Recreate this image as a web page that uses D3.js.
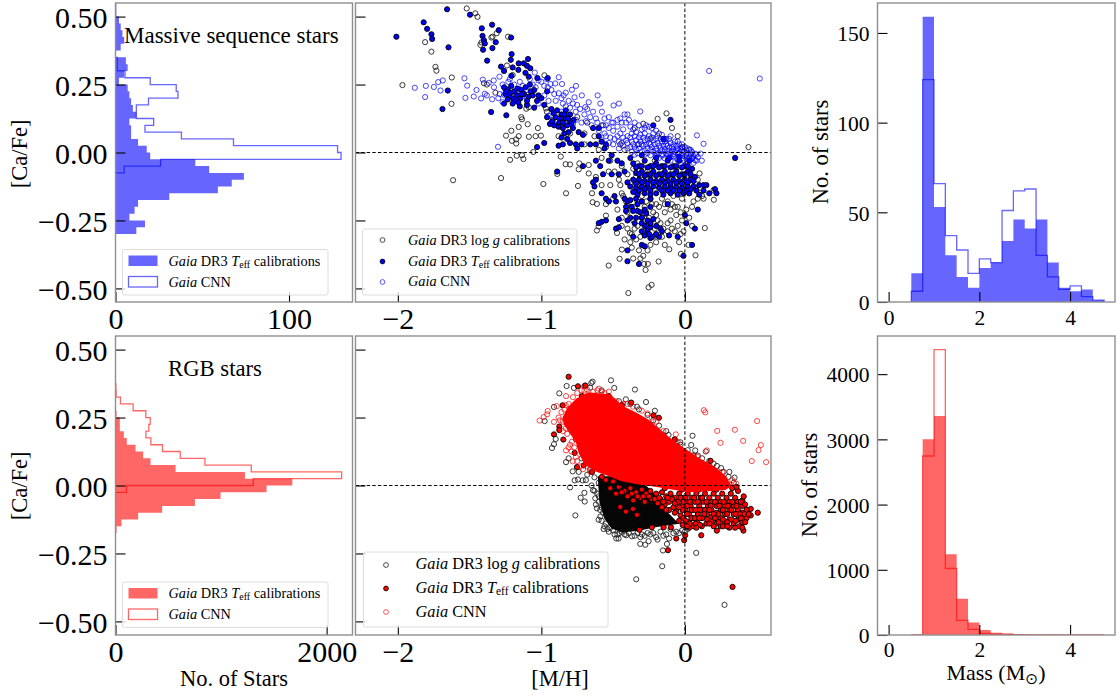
<!DOCTYPE html>
<html>
<head>
<meta charset="utf-8">
<script src="https://cdn.jsdelivr.net/npm/d3@7"></script>
<style>
  html, body { margin: 0; background: #fff; }
  svg { display: block; }
  text { font-family: "Liberation Serif", serif; fill: #000; }
</style>
</head>
<body>
<script>
// histogram counts, [Ca/Fe] bins run downward from the start value in 0.025 steps
const caStep = 0.025;
const msCaFillStart = 0.55;
const msCaFill = [.5,.5,2,3,4,5,3,0,6,7,5,2,7,8,9,10,12,8,9,9,13,18,20,46,54,74,67,59,31,13,11,8,17,12];
const msCaCnnStart = 0.35;
const msCaCnn = [1,1,5.5,20,35,36,19,12,12,22,17,38,68,128,130,26,5];
const rgbCaFillStart = 0.275;
const rgbCaFill = [10,41,41,79,107,190,262,332,569,1226,1675,1431,995,752,442,215,57,10];
const rgbCaCnnStart = 0.375;
const rgbCaCnn = [3,6,47,167,287,329,316,288,335,445,613,847,1286,2142,1305,104];

// mass histograms, bins of 0.25 starting at 0.5
const massStep = 0.25;
const massStart = 0.5;
const msMassFill = [16,159,53,26,14,8,19,22,34,46,41,46,22,8,6,7,1];
const msMassCnn = [6,124,66,37,29,16,24,22,51,62,63,26,14,7,9,3,1];
const rgbMassFill = [5,3000,3360,1238,557,190,77,35,22,10,6,5,8,2,4,2,4];
const rgbMassCnn = [0,2745,4375,1020,225,87,26,12,8,4,1,1,1,1,1,1,0];

// massive sequence scatter, [M/H] vs [Ca/Fe]
const msLogg = [[-1.52,.53],[-1.46,.512],[-1.445,.499],[-1.311,.439],[-1.348,.423],[-1.34,.426],[-1.232,.426],[-1.418,.405],[-1.425,.396],[-1.81,.406],[-1.766,.371],[-1.738,.315],[-1.731,.301],[-1.968,.248],[-1.624,.276],[-1.626,.179],[-1.615,-.102],[-1.281,-.094],[-.986,-.116],[-.828,-.15],[-.745,-.123],[-.889,-.079],[-1.218,-.027],[-1.172,-.012],[-1.125,-.024],[-1.135,-.01],[-1.056,.002],[-.865,-.015],[-.831,-.043],[-.8,-.044],[-.74,-.062],[-.735,-.04],[-.67,-.046],[-.67,-.077],[-.647,-.15],[-.643,-.183],[-.613,-.189],[-.55,-.232],[-.613,-.287],[-.601,-.272],[-.531,-.416],[-.455,-.391],[-.439,-.357],[-.383,-.296],[-.473,-.296],[-.394,-.517],[-.253,-.496],[-.232,-.487],[-.274,-.432],[-.284,-.41],[-.258,-.41],[-.183,-.401],[-.109,-.356],[-.028,-.373],[.026,-.34],[.074,-.378],[.139,-.278],[.202,-.174],[.2,-.138],[.102,-.077],[.443,.02],[-.128,.144],[-.19,.124],[-.29,.106],[-.979,.284],[-1.209,.08],[-1.158,.094],[-1.095,.104],[-1.246,.062],[-1.205,.043],[-1.175,.033],[-1.158,.06],[-1.176,.048],[-1.087,.058],[-1.04,.06],[-1.003,.062],[-1.024,.09],[-1.135,.122],[-1.14,.13],[-.962,.15],[-.968,.162],[-1.105,.161],[-1.088,.167],[-1.4,.255],[-1.38,.25],[-1.32,.22],[-1.2,.285],[-1.24,.32],[-.57,.1],[-.63,.06],[-.7,.03],[-.52,-.03],[-.49,-.07],[-.45,-.12],[-.44,-.15],[-.41,-.18],[-.35,-.2],[-.3,-.16],[-.27,-.18],[-.24,-.17],[-.2,-.19],[-.16,-.17],[-.12,-.18],[-.09,-.19],[-.05,-.2],[-.02,-.17],[.01,-.21],[.03,-.15],[.06,-.18],[-.4,-.22],[-.36,-.25],[-.33,-.27],[-.3,-.24],[-.27,-.22],[-.25,-.26],[-.2,-.23],[-.17,-.26],[-.14,-.22],[-.1,-.25],[-.06,-.23],[-.02,-.25],[.03,-.24],[.05,-.27],[-.12,-.29],[-.07,-.29],[-.03,-.3],[-.16,-.31],[-.22,-.31],[-.28,-.29],[-.34,-.32],[-.37,-.35],[-.32,-.36],[-.29,-.38],[-.24,-.34],[-.04,-.33],[-.4,-.08],[-.36,-.06],[-.3,-.1],[-.26,-.07],[-.2,-.12],[-.15,-.08],[-.1,-.13],[-.06,-.06],[0,-.12],[.04,-.09],[.07,-.13],[-.44,-.05],[-.33,-.04],[-.21,-.03],[-.02,.02],[.03,.01],[.05,-.02],[-.09,.09],[-.18,.07],[-.24,.05],[-.35,.09],[-.45,.03],[-.55,.02],[-.6,.01],[-.68,.11],[-.75,.13],[-.85,.1],[-.92,.12],
[-.46,-.1],[-.43,-.16],[-.38,-.2],[-.33,-.18],[-.28,-.2],[-.23,-.19],[-.18,-.2],[-.14,-.19],[-.1,-.21],[-.07,-.2],[-.03,-.22],[.05,-.2],[.09,-.17],[.12,-.16],[-.44,-.24],[-.4,-.28],[-.37,-.3],[-.35,-.28],[-.31,-.31],[-.26,-.3],[-.21,-.28],[-.19,-.25],[-.15,-.28],[-.12,-.26],[-.09,-.28],[-.05,-.27],[-.01,-.29],[-.27,-.27],[-.25,-.24],[-.22,-.22],[-.38,-.11],[-.34,-.09],[-.28,-.13],[-.24,-.09],[-.16,-.12],[-.12,-.09],[-.08,-.16],[-.03,-.09],[.02,-.13],[.09,-.1],[.11,-.13],[.13,-.17],[-.52,-.12],[-.5,-.17],[-.47,-.21],[-.44,-.27],[-.55,-.19],[-.42,-.32],[-.38,-.33],[-.2,-.33],[-.26,-.36],[-.14,-.34],[-.31,-.39],[-.36,-.39],[-.58,-.12],[-.62,-.09],[-.53,-.07],[-.58,-.02],[-.42,.01],[-.32,.03],[-.14,.05],[-.05,.06],[-.7,.07],[-.8,.07],[-.88,.06]];
const msTeff = [[-1.657,.527],[-1.82,.479],[-1.796,.455],[-1.766,.435],[-1.761,.418],[-2.01,.426],[-1.647,.387],[-1.497,.507],[-1.415,.457],[-1.343,.47],[-1.297,.45],[-1.41,.429],[-1.4,.413],[-1.394,.401],[-1.406,.378],[-1.341,.384],[-1.318,.406],[-1.378,.338],[-1.211,.423],[-1.207,.362],[-1.213,.341],[-1.158,.328],[-1.093,.344],[-1.281,.316],[-1.26,.3],[-1.2,.313],[-1.16,.304],[-1.123,.328],[-1.1,.319],[-1.077,.31],[-1.111,.293],[-1.088,.279],[-1.209,.282],[-1.028,.274],[-.956,.274],[-1.652,.228],[-1.689,.16],[-1.35,.149],[-1.244,.137],
[-1.26,.24],[-1.235,.232],[-1.21,.245],[-1.19,.225],[-1.165,.235],[-1.14,.23],[-1.11,.24],[-1.08,.25],[-1.05,.23],[-1.25,.215],[-1.22,.205],[-1.195,.198],[-1.17,.21],[-1.145,.2],[-1.12,.215],[-1.09,.205],[-1.06,.21],[-1.03,.19],[-1.26,.18],[-1.2,.18],[-1.15,.17],[-1.1,.175],[-1.05,.165],[-1,.2],[-.98,.175],[-.96,.225],
[-.93,.16],[-.89,.155],[-.86,.14],[-.83,.155],[-.8,.14],[-.775,.12],[-.9,.13],[-.87,.125],[-.83,.125],[-.8,.115],[-.96,.13],[-.94,.105],[-.91,.1],[-.88,.095],[-.85,.09],[-.82,.1],[-.78,.09],[-.84,.07],[-.81,.075],[-.86,.055],[-.82,.05],[-.8,.035],[-.85,.03],[-.88,.025],[-1.03,.02],[-.98,.035],[-.74,.075],[-.71,.065],[-.64,.09],[-.6,.09],[-.72,.03],[-.76,.03],[-.75,.015],[-.66,.03],[-.62,.03],[-.58,.04],[-.55,.03],[-.6,.06],[-.56,.015],[-.51,-.01],[-.71,-.05],[-.62,-.03],[-.59,-.05],[-.53,-.03],[-.47,-.03],[-.44,-.04],[-.89,-.07],[-.62,-.1],[-.57,-.08],[-.51,-.08],[-.46,-.08],[-.42,-.07],[-.4,-.11],[-.64,-.11],[-.63,-.125],[-.58,-.15],[-.55,-.17],[-.53,-.18],[-.49,-.16],[-.48,-.18],[-.55,-.25],[-.58,-.255],[-.6,-.26],[-.48,-.28],[-.46,-.275],
[-.36,-.04],[-.32,-.05],[-.28,-.03],[-.24,-.05],[-.2,-.04],[-.16,-.05],[-.12,-.03],[-.08,-.05],[-.04,-.03],[0,-.05],[.03,-.03],[-.34,-.075],[-.3,-.07],[-.26,-.08],[-.22,-.07],[-.18,-.08],[-.14,-.07],[-.1,-.08],[-.06,-.07],[-.02,-.08],[.02,-.07],[.05,-.06],[-.36,-.1],[-.32,-.1],[-.28,-.105],[-.24,-.1],[-.2,-.105],[-.16,-.1],[-.12,-.105],[-.08,-.1],[-.04,-.105],[0,-.1],[.04,-.1],[.07,-.09],[-.38,-.125],[-.34,-.13],[-.3,-.125],[-.26,-.13],[-.22,-.125],[-.18,-.13],[-.14,-.125],[-.1,-.13],[-.06,-.125],[-.02,-.13],[.02,-.125],[.06,-.125],[.1,-.12],[.13,-.12],[.15,-.12],[-.33,-.155],[-.28,-.15],[-.2,-.15],[-.15,-.155],[-.1,-.15],[-.05,-.155],[-.01,-.15],[.03,-.15],[.1,-.155],[.13,-.14],[.17,-.15],[.21,-.135],[.22,-.15],[-.42,-.17],[-.4,-.18],[-.38,-.175],[-.33,-.19],[-.24,-.17],[-.12,-.19],[-.41,-.2],[-.37,-.2],[-.33,-.215],[-.28,-.21],[-.24,-.2],[-.41,-.215],[-.38,-.24],[-.34,-.24],[-.3,-.24],[-.26,-.25],[-.22,-.245],[-.4,-.25],[-.46,-.245],[-.28,-.27],[-.26,-.285],[-.24,-.275],[-.2,-.27],[-.17,-.28],[0,-.23],[.01,-.26],[.09,-.21],[.07,-.28],[-.36,-.31],[-.28,-.305],[-.24,-.315],[-.23,-.31],[-.18,-.31],[-.11,-.305],[-.05,-.31],[-.3,-.34],[-.28,-.345],[-.4,-.36],[.05,-.34],[-.01,-.38],[-.4,-.40],[-.32,-.41],[.35,-.02],[-.1,.12],[-.22,.1],[-.15,.05],
[-1.245,.225],[-1.215,.22],[-1.18,.19],[-1.135,.215],[-1.1,.19],[-1.075,.225],[-1.235,.195],[-1.16,.185],[-1.02,.21],[-.915,.145],[-.875,.11],[-.84,.14],[-.815,.125],[-.79,.105],[-.85,.11],[-.925,.115],[-.34,-.055],[-.3,-.05],[-.26,-.055],[-.22,-.05],[-.18,-.055],[-.14,-.05],[-.1,-.055],[-.06,-.05],[-.02,-.055],[.02,-.05],[-.32,-.08],[-.28,-.085],[-.24,-.08],[-.2,-.085],[-.16,-.08],[-.12,-.085],[-.08,-.08],[-.04,-.085],[0,-.08],[.04,-.08],[-.34,-.115],[-.3,-.11],[-.26,-.115],[-.22,-.11],[-.18,-.115],[-.14,-.11],[-.1,-.115],[-.06,-.11],[-.02,-.115],[.02,-.11],[.06,-.105],[-.32,-.14],[-.28,-.135],[-.24,-.14],[-.16,-.14],[-.12,-.14],[-.08,-.14],[-.04,-.14],[0,-.14],[.04,-.135],[.08,-.14],[-.36,-.145],[-.24,-.155],[-.34,-.17],[-.3,-.18],[-.36,-.215],[-.31,-.22],[-.27,-.225],[-.35,-.26],[-.3,-.26],[-.24,-.26],[-.3,-.29],[-.25,-.3],[-.2,-.3],[-.16,-.29],[-.11,-.02],[-.04,-.015],[-.2,-.02],[-.3,-.01],[-.38,-.02]];
const msCnn = [[.169,.3],[.522,.272],[-1.882,.238],[-1.81,.204],[-1.805,.245],[-1.749,.241],[-1.719,.259],[-1.687,.265],[-1.703,.228],[-1.536,.273],[-1.517,.246],[-1.529,.201],[-1.452,.23],[-1.471,.206],[-1.42,.199],[-1.408,.268],[-1.367,.256],[-1.332,.265],[-1.292,.279],[-1.394,.216],[-1.343,.196],[-1.29,.215],[-1.26,.212],[-1.27,.185],[-1.302,.021],[-1.046,.294],[-.879,.277],[-.856,.252],[-.937,.252],[-.903,.254],[-.956,.24],[-.879,.218],[-.845,.21],[-.787,.231],[-.759,.245],[-.769,.203],[-.718,.21],[-.608,.21],[-.589,.18],[-.578,.15],[-.67,.185],[-.694,.167],[-.751,.175],[-.497,.173],[-.46,.18],[-.311,.151],[.084,.063],[.13,.032],[.109,-.004],[.118,-.03],
[-1.22,.27],[-1.15,.26],[-1.08,.27],[-1,.26],[-.98,.21],[-1.18,.19],[-1.1,.2],[-1.02,.18],[-.95,.19],[-.9,.19],[-.85,.18],[-.8,.165],[-.76,.15],[-.7,.14],[-.66,.13],[-.62,.125],[-.56,.125],[-.53,.13],[-.45,.125],[-.42,.14],[-.4,.14],[-.95,.135],[-.9,.12],[-.78,.105],[-.72,.11],[-.65,.1],[-.6,.08],[-.55,.1],[-.51,.11],
[-.5,.08],[-.47,.095],[-.45,.07],[-.43,.085],[-.41,.11],[-.38,.095],[-.35,.11],[-.32,.1],[-.28,.09],[-.25,.095],[-.52,.055],[-.49,.05],[-.46,.04],[-.43,.055],[-.4,.06],[-.37,.07],[-.34,.075],[-.31,.065],[-.28,.07],[-.25,.06],[-.22,.07],[-.19,.06],[-.16,.065],[-.13,.05],[-.1,.06],[-.46,.015],[-.43,.025],[-.4,.035],[-.37,.04],[-.34,.045],[-.31,.04],[-.28,.045],[-.25,.035],[-.22,.045],[-.19,.035],[-.16,.04],[-.13,.03],[-.1,.035],[-.07,.04],[-.04,.03],[-.38,.02],[-.35,.02],[-.32,.015],[-.29,.025],[-.26,.015],[-.23,.02],[-.2,.015],[-.17,.018],[-.14,.012],[-.11,.018],[-.08,.012],[-.05,.015],[-.02,.018],[.02,.015],[-.37,.002],[-.33,-.003],[-.3,.004],[-.26,-.002],[-.22,.004],[-.18,-.003],[-.14,.003],[-.1,-.003],[-.07,.002],[-.04,-.002],[-.01,.004],[.02,-.003],[.05,.002],[.07,-.005],[-.2,-.015],[-.16,-.012],[-.12,-.018],[-.08,-.014],[-.04,-.018],[0,-.014],[.03,-.018],[.06,-.014],[.09,-.017],[-.1,-.03],[-.05,-.028],[-.01,-.03],[.03,-.03],[.07,-.028],
[-1.38,.21],[-1.33,.24],[-1.3,.2],[-1.27,.25],[-1.25,.23],[-1.23,.26],[-1.21,.215],[-1.19,.25],[-1.17,.23],[-1.13,.245],[-1.1,.23],[-1.06,.25],[-1.04,.24],[-1.02,.265],[-.98,.245],[-.96,.27],[-.93,.23],[-.91,.215],[-.86,.2],[-.83,.22],[-.81,.19],[-.78,.18],[-.73,.16],[-.68,.16],[-.64,.15],[-.61,.11],[-.58,.1],[-.86,.15],[-.83,.17],[-.76,.12],[-.69,.115],[-.53,.09],[-.56,.07],[-.5,.11],[-.47,.12],[-.44,.11],[-.39,.12],[-.36,.085],[-.3,.085],[-.27,.1],[-.23,.09],[-.2,.08],[-.58,.045],[-.55,.06],[-.53,.035],[-.5,.03],[-.47,.06],[-.44,.035],[-.41,.045],[-.38,.055],[-.35,.06],[-.32,.055],[-.29,.055],[-.26,.05],[-.23,.055],[-.2,.05],[-.17,.05],[-.14,.04],[-.11,.05],[-.08,.03],[-.05,.04],[-.02,.03],[-.4,.015],[-.36,.03],[-.33,.03],[-.3,.03],[-.27,.03],[-.24,.03],[-.21,.03],[-.18,.025],[-.15,.025],[-.12,.025],[-.09,.02],[-.06,.025],[-.03,.012],[0,.02],[.04,.01],[-.34,.01],[-.28,.008],[-.24,.01],[-.2,.006],[-.16,.008],[-.12,.006],[-.09,.006],[-.06,.008],[-.02,.008],[.01,.008],[-.35,-.008],[-.28,-.008],[-.24,-.01],[-.2,-.006],[-.16,-.006],[-.12,-.006],[-.08,-.006],[-.05,-.006],[-.02,-.008],[.01,-.01],[.04,-.01],[.08,-.008],[-.18,-.02],[-.14,-.022],[-.1,-.016],[-.06,-.02],[-.02,-.02],[.02,-.022],[.05,-.024],[.08,-.03],[.06,-.038],[.02,-.038],[-.03,-.038]];

// RGB scatter: the solid CNN mass and the black core are too dense for single
// markers to read, so they come as outlines
const rgbCnnEnvelope = [[-.845,.25],[-.81,.286],[-.752,.317],[-.671,.339],[-.589,.335],[-.52,.331],[-.439,.29],[-.346,.266],[-.253,.238],[-.172,.201],[-.09,.165],[-.009,.135],[.095,.098],[.2,.068],[.281,.032],[.316,-.001],[.281,-.013],[.142,-.018],[.026,-.021],[-.09,-.011],[-.206,-.001],[-.323,.007],[-.439,.019],[-.531,.038],[-.624,.056],[-.694,.08],[-.735,.123],[-.752,.159],[-.798,.195],[-.838,.226]];
const rgbLoggCore = [[-.6,.03],[-.45,.03],[-.3,.01],[-.2,-.04],[-.137,-.095],[-.056,-.138],[-.206,-.15],[-.323,-.163],[-.439,-.169],[-.508,-.154],[-.555,-.12],[-.589,-.06]];
const rgbLogg = [[-.824,.366],[-.875,.339],[-.773,.359],[-.643,.382],[-.652,.377],[-.515,.387],[-.492,.359],[-.348,.353],[-.271,.307],[-.209,.275],[-.334,.29],[-.411,.317],[-.912,.289],[-.977,.237],[-.926,.138],[-.912,.152],[-.9,.171],[-.828,.086],[-.782,.052],[-.768,.019],[-.745,.022],[-.712,.019],[-.8,-.007],[-.726,-.045],[-.698,-.059],[-.763,-.11],[-.7,-.027],[-.64,-.017],[-.339,-.345],[-.158,-.297],[.276,-.439],[.079,-.248],[-.153,-.239],[-.125,-.215],[-.311,-.215],[-.253,-.205],[-.276,-.218],[-.462,-.195],[-.478,-.195],[-.408,-.183],[-.369,-.187],[-.19,-.199],[.053,.183],[.044,.149],[.072,.129],[.146,.125],[.223,.072],[.253,.064],[.304,.032],[.346,.029],[-.032,.159],[-.114,.186],[-.566,-.16],[-.52,-.156],[-.613,-.084],[-.624,-.047],[-.589,-.114],[-.601,-.126],[-.65,.0],[-.63,-.02],[-.6,-.06],[-.62,-.07],[-.58,-.13],[-.55,-.14],[-.53,-.17],[-.47,-.18],[-.44,-.17],[-.35,-.185],[-.3,-.18],[-.26,-.175],[-.17,-.17],[-.13,-.18],[-.1,-.16],[-.06,-.17],[-.02,-.165],[.02,-.16],
[-.63,.03],[-.6,.01],[-.61,-.03],[-.6,-.04],[-.58,-.08],[-.59,-.09],[-.57,-.1],[-.56,-.15],[-.54,-.16],[-.5,-.165],[-.49,-.18],[-.455,-.175],[-.42,-.18],[-.39,-.175],[-.33,-.175],[-.31,-.19],[-.28,-.185],[-.24,-.18],[-.22,-.175],[-.2,-.19],[-.15,-.185],[-.11,-.195],[-.08,-.175],[-.04,-.175],[0,-.17],[-.68,.04],[-.66,.06],[-.69,.02],[-.72,.1],[-.74,.05],[-.81,.1],[-.76,.17],[.02,.13],[.06,.11],[.09,.11],[.12,.1],[.17,.09],[.2,.08],[.27,.05],[.31,.05],[.34,.01],[-.03,.15],[-.07,.17],[-.13,.2],[-.18,.22],[-.22,.24],[-.26,.26],[-.32,.28],[-.38,.3],[-.46,.31],[-.58,.35],[-.66,.36],[-.7,.365]];
const rgbTeff = [[-.81,.4],[-.745,.365],[-.694,.368],[-.852,.295],[-.875,.217],[-.875,.204],[-.912,.188],[-.847,.169],[-.768,.12],[-.717,.329],[-.531,.329],[-.439,.296],[-.374,.305],[-.218,.258],[-.181,.249],[-.072,.169],[.179,.091],[.332,-.373],[-.118,-.238],[-.06,-.195],[-.005,-.201],[.002,-.183],[.114,-.183],[-.316,-.163],[-.23,-.154],[-.148,-.154],[-.097,-.154],[-.45,-.079],[-.411,-.096],[-.362,-.086],[-.334,-.108],[-.578,.032],[-.647,.05],[-.705,.074],[-.752,.068],[.508,-.1],[.459,-.086],[.459,-.11],[.408,-.166],[.401,-.055],[.223,-.166],[.118,-.15],
[-.55,.02],[-.5,.015],[-.52,-.01],[-.46,-.005],[-.48,-.03],[-.42,-.02],[-.38,-.01],[-.4,-.04],[-.34,-.025],[-.36,-.055],[-.3,-.015],[-.31,-.045],[-.27,-.03],[-.28,-.06],[-.24,-.02],[-.23,-.05],[-.2,-.03],[-.19,-.065],[-.16,-.025],[-.17,-.05],[-.13,-.04],[-.14,-.07],[-.1,-.03],[-.11,-.06],[-.07,-.045],[-.08,-.08],[-.04,-.03],[-.05,-.06],[-.06,-.095],[-.01,-.045],[-.02,-.075],[-.03,-.11],[-.04,-.13],[.02,-.03],[.01,-.06],[0,-.09],[-.01,-.12],[-.015,-.145],[.05,-.045],[.04,-.075],[.03,-.105],[.02,-.135],[.03,-.155],[.08,-.03],[.07,-.06],[.06,-.09],[.055,-.12],[.06,-.15],[.11,-.045],[.1,-.075],[.09,-.105],[.085,-.135],[.14,-.03],[.13,-.06],[.125,-.09],[.12,-.12],[.15,-.14],[.17,-.045],[.16,-.075],[.155,-.105],[.185,-.13],[.2,-.03],[.19,-.06],[.185,-.09],[.19,-.115],[.22,-.14],[.23,-.045],[.22,-.075],[.22,-.1],[.25,-.15],[.26,-.03],[.25,-.06],[.25,-.09],[.25,-.12],[.28,-.14],[.29,-.045],[.28,-.075],[.28,-.105],[.31,-.155],[.32,-.03],[.31,-.06],[.31,-.09],[.31,-.125],[.34,-.14],[.35,-.045],[.34,-.075],[.34,-.105],[.37,-.02],[.37,-.06],[.37,-.09],[.37,-.125],[.38,-.15],[.4,-.075],[.4,-.1],[.4,-.135],[.43,-.09],[.43,-.12],[.41,-.04],[.33,-.01],[.36,-.005],[.22,-.015],[.1,-.015],[-.02,-.015],[-.14,-.01],
[-.03,-.045],[.005,-.045],[.035,-.06],[.065,-.045],[.09,-.06],[.12,-.045],[.15,-.06],[.18,-.075],[.21,-.06],[.24,-.075],[.27,-.06],[.3,-.075],[.33,-.06],[.36,-.075],[.39,-.06],[.42,-.07],[-.01,-.06],[.015,-.075],[.045,-.09],[.075,-.09],[.105,-.09],[.14,-.09],[.17,-.09],[.2,-.105],[.235,-.105],[.265,-.09],[.295,-.105],[.325,-.09],[.355,-.105],[.385,-.105],[.415,-.105],[.445,-.105],[-.015,-.09],[.015,-.105],[.045,-.12],[.07,-.12],[.1,-.12],[.135,-.105],[.155,-.125],[.21,-.12],[.235,-.135],[.265,-.125],[.295,-.135],[.325,-.125],[.355,-.13],[.39,-.12],[.42,-.135],[.005,-.13],[.035,-.14],[.075,-.14],[.105,-.145],[.17,-.14],[.2,-.15],[.265,-.15],[.295,-.15],[.35,-.155],[.4,-.155],[.015,-.15],[.08,-.155],[-.07,-.065],[-.09,-.05],[-.12,-.045],[-.15,-.06],[-.18,-.045],[-.21,-.05],[-.25,-.04],[-.29,-.04],[-.33,-.04],[-.37,-.03],[-.44,-.025],[-.04,-.08],[-.07,-.1],[-.11,-.09],[-.13,-.09],[-.16,-.08]];
const rgbCnn = [[-1.012,.239],[-.984,.252],[-.956,.274],[-.96,.262],[-.893,.292],[-.828,.329],[-.912,.234],[.132,.277],[.142,.269],[.225,.201],[.248,.157],[.348,.205],[.406,.164],[.503,.237],[.529,.149],[.513,.13],[.466,.09],[.566,.086],[.357,.007],[.316,.001],[.153,.129],[-.063,.188],[-.828,.129],[-.787,.161],[-.782,.089],[-.81,.14],[-.601,.356],[-.682,.353],[-.88,.25],[-.86,.27],[-.85,.235],[-.83,.295],[-.82,.19],[-.8,.15],[-.76,.105],[-.71,.06],[-.72,.35],[-.64,.345],[-.56,.34],[-.4,.3],[-.36,.29],[-.26,.265],[-.2,.235],[-.15,.2],[-.05,.16],[.05,.11],[.09,.105],[.17,.08],[.26,.05],[.33,.02],
[-.87,.24],[-.84,.28],[-.81,.3],[-.78,.325],[-.75,.34],[-.7,.35],[-.61,.35],[-.58,.345],[-.53,.345],[-.48,.31],[-.43,.3],[-.3,.275],[-.23,.25],[-.85,.2],[-.83,.21],[-.79,.125],[-.77,.14],[-.75,.09],[-.73,.07],[-.68,.07],[-.66,.05]];

const catTicks = [-0.5, -0.25, 0, 0.25, 0.5];
const mhTicks = [-2, -1, 0];
const massTicks = [0, 2, 4];
const blue = "#0000ff", red = "#ff0000";

var svg = d3.select("body").append("svg").attr("width", 1117).attr("height", 696);
var clipId = 0;

function panel(box, xDomain, yDomain) {
  var id = "clip" + (clipId++);
  svg.append("clipPath").attr("id", id).append("rect")
    .attr("x", box.l).attr("y", box.t).attr("width", box.r - box.l).attr("height", box.b - box.t);
  return {
    box: box,
    x: d3.scaleLinear().domain(xDomain).range([box.l, box.r]),
    y: d3.scaleLinear().domain(yDomain).range([box.b, box.t]),
    g: svg.append("g").attr("clip-path", "url(#" + id + ")")
  };
}

function axes(p, o) {
  var bottom = d3.axisBottom(p.x).tickValues(o.xTicks).tickSize(-10).tickPadding(o.xPad).tickFormat(o.xFormat || d3.format("d"));
  var left = d3.axisLeft(p.y).tickValues(o.yTicks).tickSize(-10).tickPadding(8).tickFormat(o.yFormat || "");
  var gb = svg.append("g").attr("transform", "translate(0," + p.box.b + ")").call(bottom);
  var gl = svg.append("g").attr("transform", "translate(" + p.box.l + ",0)").call(left);
  [gb, gl].forEach(function (a) {
    a.select(".domain").remove();
    a.selectAll("line").attr("stroke", "#000").attr("stroke-width", 1.1);
    a.selectAll("text").style("font-family", '"Liberation Serif", serif').attr("font-size", o.font).attr("fill", "#000");
  });
  gl.selectAll("text").attr("dy", "0.36em");
  svg.append("rect")
    .attr("x", p.box.l).attr("y", p.box.t)
    .attr("width", p.box.r - p.box.l).attr("height", p.box.b - p.box.t)
    .attr("fill", "none").attr("stroke", "#8f8f8f").attr("stroke-width", 1.4);
}

// sideways histogram for [Ca/Fe]
function caHist(p, start, counts, color, filled) {
  var pts = [[0, start]];
  counts.forEach(function (c, i) {
    pts.push([c, start - i * caStep], [c, start - (i + 1) * caStep]);
  });
  pts.push([0, start - counts.length * caStep]);
  var line = d3.line().x(function (d) { return p.x(d[0]); }).y(function (d) { return p.y(d[1]); });
  p.g.append("path").attr("d", line(pts))
    .attr("fill", filled ? color : "none").attr("fill-opacity", filled ? 0.6 : 0)
    .attr("stroke", filled ? "none" : color).attr("stroke-opacity", 0.6).attr("stroke-width", 1.3);
}

function massHist(p, counts, color, filled) {
  var pts = [[massStart, 0]];
  counts.forEach(function (c, i) {
    pts.push([massStart + i * massStep, c], [massStart + (i + 1) * massStep, c]);
  });
  pts.push([massStart + counts.length * massStep, 0]);
  var line = d3.line().x(function (d) { return p.x(d[0]); }).y(function (d) { return p.y(d[1]); });
  p.g.append("path").attr("d", line(pts))
    .attr("fill", filled ? color : "none").attr("fill-opacity", filled ? 0.6 : 0)
    .attr("stroke", filled ? "none" : color).attr("stroke-opacity", 0.6).attr("stroke-width", 1.3);
}

function dots(p, data, stroke, fill, opacity) {
  p.g.append("g").selectAll("circle").data(data).enter().append("circle")
    .attr("cx", function (d) { return p.x(d[0]); })
    .attr("cy", function (d) { return p.y(d[1]); })
    .attr("r", 2.6)
    .attr("fill", fill)
    .attr("stroke", stroke)
    .attr("stroke-opacity", opacity)
    .attr("stroke-width", 0.9);
}

function blob(p, outline, color) {
  var line = d3.line().x(function (d) { return p.x(d[0]); }).y(function (d) { return p.y(d[1]); }).curve(d3.curveLinearClosed);
  p.g.append("path").attr("d", line(outline)).attr("fill", color).attr("stroke", color).attr("stroke-width", 2);
}

function zeroLines(p) {
  [[p.x(0), p.box.t, p.x(0), p.box.b], [p.box.l, p.y(0), p.box.r, p.y(0)]].forEach(function (c) {
    p.g.append("line")
      .attr("x1", c[0]).attr("y1", c[1]).attr("x2", c[2]).attr("y2", c[3])
      .attr("stroke", "#000").attr("stroke-width", 1).attr("stroke-dasharray", "3.4,2.2");
  });
}

// "Gaia DR3 log g calibrations" etc, parts are [text, style]
function richText(g, x, y, size, parts) {
  var t = g.append("text").attr("x", x).attr("y", y).attr("font-size", size);
  parts.forEach(function (a) {
    var s = t.append("tspan").text(a[0]);
    if (a[1] == "i") s.attr("font-style", "italic");
    if (a[1] == "sub") s.attr("font-size", size * 0.7).attr("dy", size * 0.15);
    if (a[1] == "back") s.attr("dy", -size * 0.15);
  });
}

const loggLabel = [["Gaia", "i"], [" DR3 log "], ["g", "i"], [" calibrations"]];
const teffLabel = [["Gaia", "i"], [" DR3 "], ["T", "i"], ["eff", "sub"], [" calibrations", "back"]];
const cnnLabel = [["Gaia", "i"], [" CNN"]];

function legendBox(x, y, w, h) {
  svg.append("rect").attr("x", x).attr("y", y).attr("width", w).attr("height", h).attr("rx", 2)
    .attr("fill", "#fff").attr("fill-opacity", 0.8).attr("stroke", "#dcdcdc").attr("stroke-width", 1);
}

function histLegend(top, color) {
  legendBox(122.5, top, 205.5, 45.5);
  svg.append("rect").attr("x", 128.5).attr("y", top + 6).attr("width", 29).attr("height", 10.5)
    .attr("fill", color).attr("fill-opacity", 0.6);
  svg.append("rect").attr("x", 128.5).attr("y", top + 27).attr("width", 29).attr("height", 10.5)
    .attr("fill", "none").attr("stroke", color).attr("stroke-opacity", 0.6).attr("stroke-width", 1.3);
  richText(svg, 168.5, top + 16, 14.3, teffLabel);
  richText(svg, 168.5, top + 37, 14.3, cnnLabel);
}

function dotLegend(box, mx, tx, ys, base, size, color) {
  legendBox(box[0], box[1], box[2], box[3]);
  var rows = [["#222", "none", 1, loggLabel], ["#000", color, 1, teffLabel], [color, "none", 0.8, cnnLabel]];
  rows.forEach(function (r, i) {
    svg.append("circle").attr("cx", mx).attr("cy", ys[i]).attr("r", 2.4)
      .attr("fill", r[1]).attr("stroke", r[0]).attr("stroke-opacity", r[2]).attr("stroke-width", 0.8);
    richText(svg, tx, base[i], size, r[3]);
  });
}

var caFormat = d3.format(".2f");
var caRange = [-0.55, 0.55];

// top row
var a1 = panel({ l: 115.5, r: 352.5, t: 3, b: 302 }, [0, 136.6], caRange);
caHist(a1, msCaFillStart, msCaFill, blue, true);
caHist(a1, msCaCnnStart, msCaCnn, blue, false);
axes(a1, { xTicks: [0, 100], yTicks: catTicks, yFormat: caFormat, font: 30, xPad: 6 });

var b1 = panel({ l: 355.5, r: 771, t: 3, b: 302 }, [-2.295, 0.6], caRange);
dots(b1, msLogg, "#222", "none", 1);
dots(b1, msTeff, "#000", blue, 1);
dots(b1, msCnn, blue, "none", 0.8);
zeroLines(b1);
axes(b1, { xTicks: mhTicks, yTicks: catTicks, font: 30, xPad: 6 });

var c1 = panel({ l: 877.5, r: 1115, t: 3, b: 302 }, [-0.245, 4.99], [0, 166.7]);
massHist(c1, msMassFill, blue, true);
massHist(c1, msMassCnn, blue, false);
axes(c1, { xTicks: massTicks, yTicks: [0, 50, 100, 150], yFormat: d3.format("d"), font: 21.5, xPad: 8 });

// bottom row
var a2 = panel({ l: 115.5, r: 352.5, t: 336, b: 635 }, [0, 2245], caRange);
caHist(a2, rgbCaFillStart, rgbCaFill, red, true);
caHist(a2, rgbCaCnnStart, rgbCaCnn, red, false);
axes(a2, { xTicks: [0, 2000], yTicks: catTicks, yFormat: caFormat, font: 30, xPad: 6 });

var b2 = panel({ l: 355.5, r: 771, t: 336, b: 635 }, [-2.295, 0.6], caRange);
dots(b2, rgbLogg, "#222", "none", 1);
blob(b2, rgbLoggCore, "#050505");
dots(b2, rgbTeff, "#000", red, 1);
blob(b2, rgbCnnEnvelope, red);
dots(b2, rgbCnn, red, "none", 0.8);
zeroLines(b2);
axes(b2, { xTicks: mhTicks, yTicks: catTicks, font: 30, xPad: 6 });

var c2 = panel({ l: 877.5, r: 1115, t: 336, b: 635 }, [-0.245, 4.99], [0, 4585]);
massHist(c2, rgbMassFill, red, true);
massHist(c2, rgbMassCnn, red, false);
axes(c2, { xTicks: massTicks, yTicks: [0, 1000, 2000, 3000, 4000], yFormat: d3.format("d"), font: 21.5, xPad: 7 });

// legends
histLegend(249.5, blue);
histLegend(582, red);
dotLegend([362.5, 229, 214.5, 66], 382.5, 408, [240, 261.5, 282], [244.5, 265.5, 286], 14.3, blue);
dotLegend([363.5, 552, 244.5, 75], 386, 415.5, [565, 588.5, 612], [569, 593, 617], 16.3, red);

// labels
function rotated(x, y, size, s) {
  svg.append("text").attr("transform", "translate(" + x + "," + y + ") rotate(-90)")
    .attr("text-anchor", "middle").attr("font-size", size).text(s);
}
function centered(x, y, size, s) {
  return svg.append("text").attr("x", x).attr("y", y).attr("text-anchor", "middle").attr("font-size", size).text(s);
}
rotated(27, 154, 22.5, "[Ca/Fe]");
rotated(27, 486, 22.5, "[Ca/Fe]");
rotated(828, 152, 22.5, "No. of stars");
rotated(817, 485, 22.5, "No. of stars");
centered(234, 686, 22.5, "No. of Stars");
centered(560, 686, 22.5, "[M/H]");
var mass = centered(996, 680, 22, "Mass (M");
mass.append("tspan").attr("font-size", 15.5).attr("dy", 4).style("font-family", "DejaVu Sans").text("\u2299");
mass.append("tspan").attr("dy", -4).text(")");
svg.append("text").attr("x", 124).attr("y", 43).attr("font-size", 23).text("Massive sequence stars");
svg.append("text").attr("x", 168).attr("y", 376).attr("font-size", 22.7).text("RGB stars");
</script>
</body>
</html>
